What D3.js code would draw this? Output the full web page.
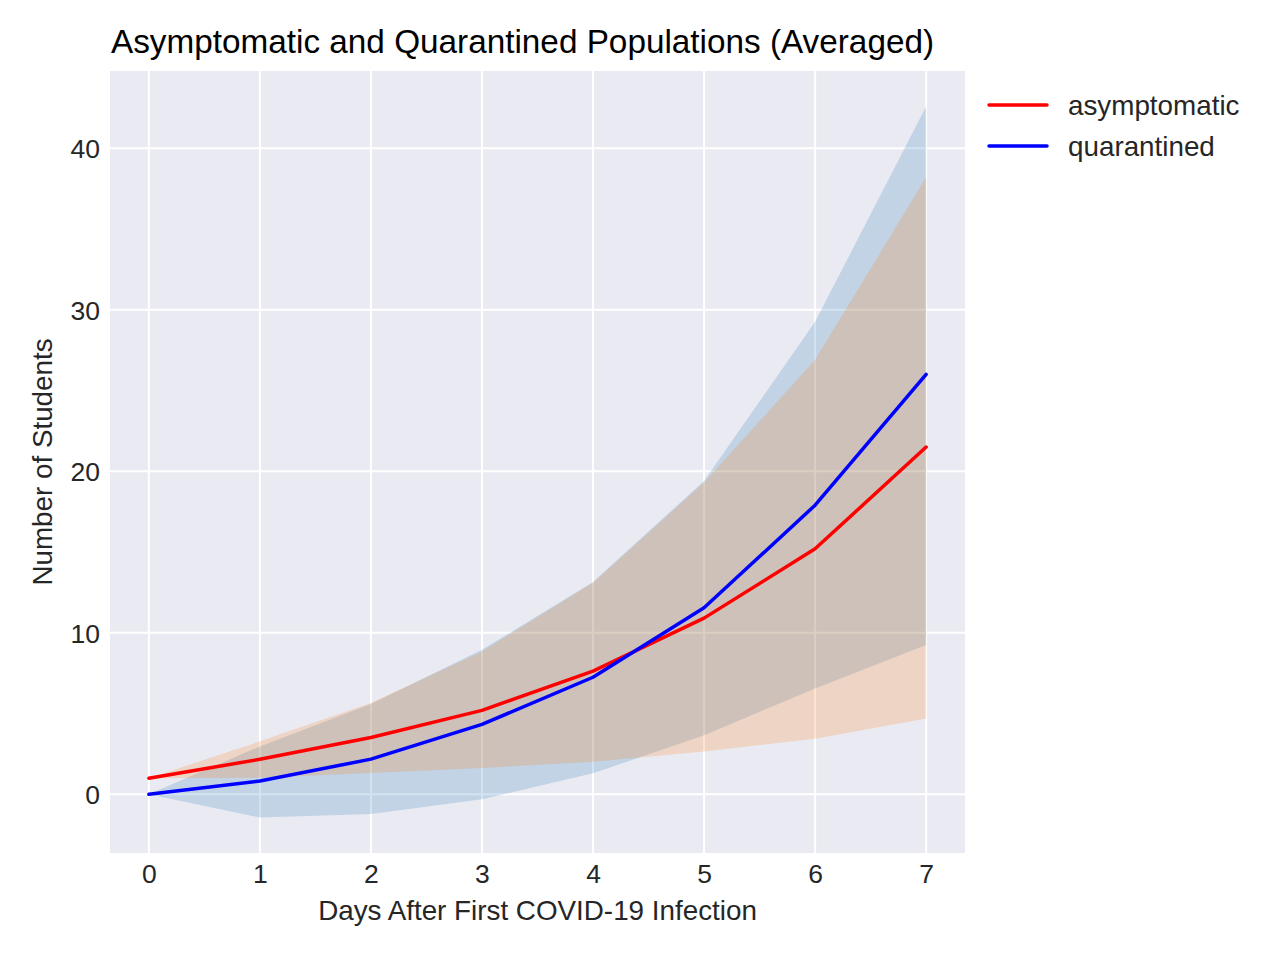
<!DOCTYPE html>
<html>
<head>
<meta charset="utf-8">
<script src="https://cdn.jsdelivr.net/npm/d3@7"></script>
<style>
  html, body { margin: 0; padding: 0; background: #ffffff; }
  svg { display: block; font-family: "Liberation Sans", Arial, sans-serif; }
</style>
</head>
<body>
<svg id="chart" width="1280" height="960"></svg>
<script>
// ---- data ----
const days = [0, 1, 2, 3, 4, 5, 6, 7];
const asymptomaticMean  = [1.0, 2.17, 3.52, 5.2, 7.63, 10.91, 15.2, 21.5];
const asymptomaticLower = [1.0, 1.03, 1.32, 1.63, 2.02, 2.66, 3.45, 4.7];
const asymptomaticUpper = [1.0, 3.28, 5.65, 8.85, 13.1, 19.3, 26.9, 38.2];
const quarantinedMean  = [0, 0.83, 2.18, 4.33, 7.25, 11.55, 17.9, 26.0];
const quarantinedLower = [0, -1.43, -1.22, -0.31, 1.3, 3.66, 6.55, 9.25];
const quarantinedUpper = [0, 2.97, 5.6, 8.95, 13.15, 19.4, 29.25, 42.58];
const xTicks = [0, 1, 2, 3, 4, 5, 6, 7];
const yTicks = [0, 10, 20, 30, 40];
const seriesNames = ["asymptomatic", "quarantined"];
const titleText = "Asymptomatic and Quarantined Populations (Averaged)";
const xLabelText = "Days After First COVID-19 Infection";
const yLabelText = "Number of Students";

// ---- layout ----
const plot = { left: 110, right: 965, top: 71, bottom: 853 };
const svg = d3.select("#chart");

const xExt = d3.extent(days);
const xPad = (xExt[1] - xExt[0]) * 0.05;
const allY = [].concat(asymptomaticLower, asymptomaticUpper, quarantinedLower, quarantinedUpper);
const yExt = d3.extent(allY);
const yPad = (yExt[1] - yExt[0]) * 0.05;

const x = d3.scaleLinear().domain([xExt[0] - xPad, xExt[1] + xPad]).range([plot.left, plot.right]);
const y = d3.scaleLinear().domain([yExt[0] - yPad, yExt[1] + yPad]).range([plot.bottom, plot.top]);

// background
svg.append("rect")
  .attr("x", plot.left).attr("y", plot.top)
  .attr("width", plot.right - plot.left).attr("height", plot.bottom - plot.top)
  .attr("fill", "#EAEAF2");

// grid
const grid = svg.append("g");
grid.selectAll("line.gx").data(xTicks).enter().append("line")
  .attr("x1", d => x(d)).attr("x2", d => x(d))
  .attr("y1", plot.top).attr("y2", plot.bottom)
  .attr("stroke", "#ffffff").attr("stroke-width", 2);
grid.selectAll("line.gy").data(yTicks).enter().append("line")
  .attr("y1", d => y(d)).attr("y2", d => y(d))
  .attr("x1", plot.left).attr("x2", plot.right)
  .attr("stroke", "#ffffff").attr("stroke-width", 2);

// bands
const qBand = days.map((d, i) => ({ d, lo: quarantinedLower[i], hi: quarantinedUpper[i] }));
const aBand = days.map((d, i) => ({ d, lo: asymptomaticLower[i], hi: asymptomaticUpper[i] }));
const area = d3.area().x(p => x(p.d)).y0(p => y(p.lo)).y1(p => y(p.hi));

svg.append("path").datum(qBand).attr("d", area)
  .attr("fill", "#1f77b4").attr("fill-opacity", 0.2);
svg.append("path").datum(aBand).attr("d", area)
  .attr("fill", "#ff7f0e").attr("fill-opacity", 0.2);

// lines
const line = d3.line().x(p => x(p.d)).y(p => y(p.v));
const aLine = days.map((d, i) => ({ d, v: asymptomaticMean[i] }));
const qLine = days.map((d, i) => ({ d, v: quarantinedMean[i] }));
svg.append("path").datum(aLine).attr("d", line)
  .attr("fill", "none").attr("stroke", "#ff0000").attr("stroke-width", 3.5)
  .attr("stroke-linecap", "round").attr("stroke-linejoin", "round");
svg.append("path").datum(qLine).attr("d", line)
  .attr("fill", "none").attr("stroke", "#0000ff").attr("stroke-width", 3.5)
  .attr("stroke-linecap", "round").attr("stroke-linejoin", "round");

// axes (tick labels only, no tick marks)
const xAxis = d3.axisBottom(x).tickValues(xTicks).tickSize(0).tickPadding(0).tickFormat(d3.format("d"));
const gx = svg.append("g").attr("transform", `translate(0,${plot.bottom})`).call(xAxis);
gx.select(".domain").remove();
gx.selectAll("text")
  .attr("y", 30).attr("dy", null)
  .attr("font-size", 26.5).attr("fill", "#262626")
  .attr("font-family", "Liberation Sans, Arial, sans-serif");

const yAxis = d3.axisLeft(y).tickValues(yTicks).tickSize(0).tickPadding(0).tickFormat(d3.format("d"));
const gy = svg.append("g").attr("transform", `translate(${plot.left},0)`).call(yAxis);
gy.select(".domain").remove();
gy.selectAll("text")
  .attr("x", -10).attr("dy", "0.35em")
  .attr("font-size", 26.5).attr("fill", "#262626")
  .attr("font-family", "Liberation Sans, Arial, sans-serif");

// axis labels
svg.append("text")
  .attr("x", (plot.left + plot.right) / 2).attr("y", 920)
  .attr("text-anchor", "middle").attr("font-size", 27.8).attr("fill", "#262626")
  .text(xLabelText);
svg.append("text")
  .attr("transform", `translate(52,${(plot.top + plot.bottom) / 2}) rotate(-90)`)
  .attr("text-anchor", "middle").attr("font-size", 27.8).attr("fill", "#262626")
  .text(yLabelText);

// title
svg.append("text")
  .attr("x", plot.left + 1).attr("y", 53)
  .attr("font-size", 33.3).attr("fill", "#000000")
  .text(titleText);

// legend
const legendColors = ["#ff0000", "#0000ff"];
const lg = svg.append("g");
seriesNames.forEach((name, i) => {
  const ly = 105 + i * 41;
  lg.append("line")
    .attr("x1", 989).attr("x2", 1047).attr("y1", ly).attr("y2", ly)
    .attr("stroke", legendColors[i]).attr("stroke-width", 3.5).attr("stroke-linecap", "round");
  lg.append("text")
    .attr("x", 1068).attr("y", ly + 10)
    .attr("font-size", 27.8).attr("fill", "#262626")
    .text(name);
});
</script>
</body>
</html>
